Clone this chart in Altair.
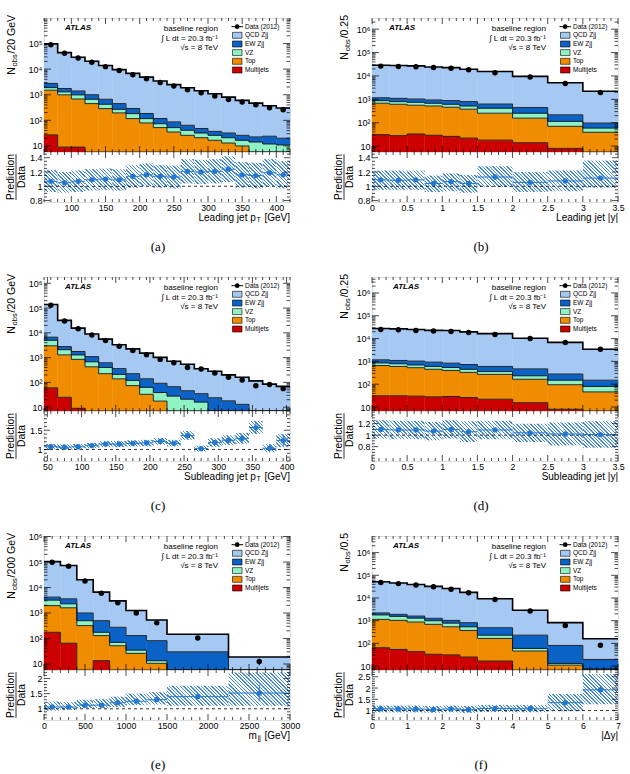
import math
import altair as alt
import pandas as pd
import numpy as np

# ---------------------------------------------------------------- data
# (a) leading jet pT
a_edges = [60, 80, 100, 120, 140, 160, 180, 200, 220, 240, 260, 280, 300, 320, 340, 360, 380, 400, 420]
a_qcd = [93500, 42400, 27500, 19200, 13100, 9140, 6550, 4690, 3300, 2400, 1810, 1390, 1050, 774, 577, 449, 345, 282]
a_ew = [850, 450, 410, 335, 240, 180, 107, 68, 44, 35, 23, 16, 11, 11, 9.4, 8.2, 12, 9]
a_vz = [400, 310, 310, 215, 138, 75, 66, 38, 22, 17, 15, 11, 9.4, 8, 6.6, 9.8, 8.5, 8]
a_top = [1473, 981, 671, 450, 287, 195, 117, 79, 52, 35, 26, 21, 16.6, 13, 10, 4.5, 3.5, 3]
a_mj = [27, 9, 9, 0, 0, 0, 0, 0, 0, 0, 0, 0, 0, 0, 0, 0, 0, 0]
a_data = [90000, 42000, 27000, 18500, 12500, 8800, 6000, 4200, 3000, 2200, 1550, 1200, 900, 650, 520, 410, 310, 260]
a_derr = [0] * 18
a_ratio = [1.07, 1.05, 1.07, 1.09, 1.10, 1.09, 1.14, 1.16, 1.14, 1.13, 1.21, 1.20, 1.21, 1.24, 1.16, 1.15, 1.19, 1.16]
a_rerr = [0, 0, 0, 0, 0, 0, 0.01, 0.01, 0.01, 0.01, 0.02, 0.02, 0.02, 0.03, 0.03, 0.03, 0.04, 0.04]
a_blo = [0.92, 0.91, 0.92, 0.94, 0.95, 0.94, 0.98, 1.0, 0.98, 0.97, 1.04, 1.03, 1.04, 1.06, 0.98, 0.97, 1.0, 0.97]
a_bhi = [1.23, 1.2, 1.22, 1.24, 1.25, 1.24, 1.3, 1.32, 1.3, 1.29, 1.38, 1.37, 1.38, 1.42, 1.34, 1.33, 1.38, 1.35]

# (b) leading jet |y|
b_edges = [0, 0.25, 0.5, 0.75, 1.0, 1.25, 1.5, 2.0, 2.5, 3.0, 3.5]
b_qcd = [27500, 26700, 26000, 23200, 21800, 18500, 14850, 9130, 4890, 2110]
b_ew = [290, 300, 285, 260, 265, 280, 215, 190, 104, 38]
b_vz = [200, 185, 185, 160, 155, 140, 160, 98, 44, 20]
b_top = [649, 587, 527, 491, 434, 358, 237, 143, 62, 35]
b_mj = [31, 28, 33, 29, 26, 22, 18, 14, 8, 4]
b_data = [26300, 25600, 24800, 23200, 21300, 18600, 13700, 9080, 4750, 1980]
b_derr = [0] * 10
b_ratio = [1.09, 1.085, 1.09, 1.04, 1.065, 1.04, 1.13, 1.055, 1.075, 1.115]
b_rerr = [0, 0, 0, 0, 0, 0, 0.01, 0.01, 0.01, 0.02]
b_blo = [0.95, 0.95, 0.95, 0.92, 0.93, 0.91, 0.99, 0.92, 0.93, 0.98]
b_bhi = [1.22, 1.22, 1.22, 1.15, 1.18, 1.16, 1.28, 1.2, 1.22, 1.36]

# (c) subleading jet pT
c_edges = [45, 65, 85, 105, 125, 145, 165, 185, 205, 225, 245, 265, 285, 305, 325, 345, 365, 385, 405]
c_qcd = [132400, 29000, 13700, 7920, 4970, 2950, 2025, 1381, 936, 652, 498, 322, 256, 183, 148, 110, 81.5, 65]
c_ew = [1700, 700, 480, 420, 220, 150, 105, 77, 53, 39, 25, 19, 20, 15, 10, 3, 2, 2]
c_vz = [2000, 810, 440, 255, 175, 71, 46, 30, 21.4, 24, 18, 14, 3, 2, 2, 1, 1, 1]
c_top = [2940, 1265, 841, 425, 225, 139, 74, 33, 17.6, 4, 3, 2, 1, 1, 1, 1, 1, 1]
c_mj = [60, 25, 9, 0, 0, 0, 0, 0, 0, 0, 0, 0, 0, 0, 0, 0, 0, 0]
c_data = [130000, 30000, 14500, 8200, 4900, 2900, 1940, 1300, 850, 620, 400, 350, 237, 162, 125, 73, 83, 56]
c_derr = [0] * 18
c_ratio = [1.07, 1.06, 1.07, 1.10, 1.14, 1.14, 1.16, 1.17, 1.21, 1.16, 1.36, 1.02, 1.18, 1.24, 1.29, 1.57, 1.03, 1.23]
c_rerr = [0, 0, 0, 0, 0.01, 0.01, 0.02, 0.02, 0.03, 0.03, 0.05, 0.04, 0.06, 0.08, 0.09, 0.15, 0.1, 0.15]
c_blo = [1.0, 1.0, 1.0, 1.03, 1.06, 1.06, 1.08, 1.08, 1.12, 1.08, 1.25, 0.95, 1.07, 1.12, 1.15, 1.4, 0.93, 1.06]
c_bhi = [1.14, 1.13, 1.14, 1.17, 1.22, 1.22, 1.24, 1.25, 1.3, 1.25, 1.48, 1.1, 1.29, 1.37, 1.43, 1.74, 1.14, 1.4]

# (d) subleading jet |y|
d_edges = [0, 0.25, 0.5, 0.75, 1.0, 1.25, 1.5, 2.0, 2.5, 3.0, 3.5]
d_qcd = [26550, 25500, 23820, 21860, 21820, 18880, 15860, 9930, 6550, 3280]
d_ew = [310, 310, 330, 330, 300, 280, 240, 235, 130, 70]
d_vz = [200, 190, 170, 150, 140, 120, 90, 70, 55, 34]
d_top = [629, 569, 500, 422, 371, 304, 248, 149.5, 87, 42]
d_mj = [31, 31, 30, 28, 29, 26, 22, 15.5, 8, 4]
d_data = [25200, 24400, 22800, 21300, 20600, 18500, 15100, 10000, 6700, 3400]
d_derr = [0] * 10
d_ratio = [1.10, 1.09, 1.09, 1.07, 1.10, 1.06, 1.09, 1.04, 1.02, 1.01]
d_rerr = [0, 0, 0, 0, 0, 0, 0.01, 0.01, 0.01, 0.02]
d_blo = [0.94, 0.93, 0.93, 0.91, 0.94, 0.88, 0.93, 0.88, 0.82, 0.78]
d_bhi = [1.26, 1.25, 1.25, 1.23, 1.26, 1.24, 1.25, 1.2, 1.22, 1.24]

# (e) m_jj
e_edges = [0, 200, 400, 600, 800, 1000, 1250, 1500, 2250, 3000]
e_qcd = [99680, 69540, 19160, 6108, 2725, 1120, 451, 117, 13.8]
e_ew = [1000, 1300, 500, 325, 205, 95, 68.5, 27, 3]
e_vz = [1250, 700, 180, 45, 18, 9, 2.9, 1, 1]
e_top = [1775, 1535, 320, 116.5, 52, 26, 10.6, 2, 1]
e_mj = [175, 65, 0, 13.5, 0, 0, 0, 0, 0]
e_data = [98000, 69000, 18000, 5900, 2500, 1000, 410, 105, 12.4]
e_derr = [0, 0, 0, 0, 0, 0, 0, 10, 3.5]
e_ratio = [1.06, 1.06, 1.12, 1.12, 1.2, 1.25, 1.3, 1.4, 1.52]
e_rerr = [0, 0, 0.01, 0.01, 0.02, 0.03, 0.04, 0.05, 0.27]
e_blo = [0.94, 0.96, 1.02, 1.02, 1.06, 1.12, 1.14, 1.1, 1.1]
e_bhi = [1.24, 1.22, 1.3, 1.32, 1.4, 1.5, 1.55, 1.76, 2.2]

# (f) |delta y|
f_edges = [0, 0.5, 1, 1.5, 2, 2.5, 3, 4, 5, 6, 7]
f_qcd = [49640, 44110, 37990, 31280, 25185, 16865, 8775, 2632, 742, 140]
f_ew = [400, 350, 300, 270, 250, 275, 260, 170, 68, 12]
f_vz = [660, 520, 430, 310, 240, 170, 65, 14, 2, 0.5]
f_top = [1076, 976, 827, 657, 509, 345, 148.4, 46, 11, 7]
f_mj = [64, 54, 43, 33, 31, 25, 16.6, 0, 0, 0]
f_data = [48000, 43000, 37000, 31000, 24500, 17000, 8500, 2650, 610, 83]
f_derr = [0] * 10
f_ratio = [1.08, 1.07, 1.07, 1.05, 1.07, 1.04, 1.09, 1.08, 1.35, 1.92]
f_rerr = [0, 0, 0, 0, 0, 0, 0.01, 0.02, 0.06, 0.2]
f_blo = [0.92, 0.92, 0.92, 0.9, 0.92, 0.9, 0.93, 0.92, 0.97, 1.28]
f_bhi = [1.22, 1.22, 1.22, 1.2, 1.22, 1.2, 1.25, 1.25, 1.73, 2.62]

SAMPLES = ["QCD Zjj", "EW Zjj", "VZ", "Top", "Multijets"]
SAMPLE_COLORS = ["#a5c9f3", "#0a62c6", "#8ef2c2", "#f08c00", "#cc0000"]

# ---------------------------------------------------------------- style
FONT = "Liberation Sans"
W, HM, HR, GAP = 246, 134, 50, 75
RB = "#2478cc"
HATCH = "#4489d8"
CW = {' ': 278, '(': 333, ')': 333, '/': 278, '.': 278, '-': 333, '=': 584, '[': 278, ']': 278,
      '|': 260, 'A': 667, 'D': 722, 'G': 778, 'L': 556, 'N': 722, 'P': 667, 'S': 667, 'T': 611,
      'V': 667, 'a': 556, 'b': 556, 'c': 500, 'd': 556, 'e': 556, 'g': 556, 'i': 222, 'j': 222,
      'l': 222, 'n': 556, 'o': 556, 'p': 556, 'r': 333, 's': 500, 't': 278, 'u': 556, 'y': 500,
      'm': 833, 'Δ': 612}


def tw(s, size):
    return sum(CW.get(ch, 556) for ch in s) * size / 1000.0


one = pd.DataFrame({"k": [0]})
LOGLAB = ("datum.value >= 999999 ? '10⁶' : datum.value >= 99999 ? '10⁵' : "
          "datum.value >= 9999 ? '10⁴' : datum.value >= 999 ? '10³' : "
          "datum.value >= 99 ? '10²' : '10'")


def txt(s, x, y, size=8, align="left", angle=0, weight="normal", style="normal",
        font=FONT, baseline="middle"):
    kw = dict(text=s, fontSize=size, align=align, baseline=baseline, font=font,
              fontWeight=weight, fontStyle=style, color="black")
    if angle:
        kw["angle"] = angle
    return alt.Chart(one).mark_text(**kw).encode(x=alt.value(x), y=alt.value(y))


def prule(x0, x1, y0, y1, color="black", width=0.8, opacity=1):
    return alt.Chart(one).mark_rule(color=color, strokeWidth=width, opacity=opacity).encode(
        x=alt.value(x0), x2=alt.value(x1), y=alt.value(y0), y2=alt.value(y1))


def lin_minor(lo, hi, step, majors):
    out = []
    n = int(round((hi - lo) / step))
    for i in range(n + 1):
        v = round(lo + i * step, 6)
        if lo <= v <= hi and all(abs(v - m) > 1e-9 for m in majors):
            out.append(v)
    return out


def log_ticks(dom):
    maj, mnr = [], []
    for k in range(0, 8):
        for m in range(1, 10):
            v = m * 10 ** k
            if dom[0] < v < dom[1]:
                (maj if m == 1 else mnr).append(v)
    return maj, mnr


def hatch(w, h, period=2.5, line=1.0):
    """45-degree hatch ('\\' direction) as a gradient in bounding-box units."""
    w = max(w, 1.0)
    h = max(h, 1.0)
    k = w * (w + h) / (w * w + h * h)
    total = w + h
    q = period * math.sqrt(2)
    lw = line * math.sqrt(2)
    stops = []
    i = 0
    while i * q < total:
        t0 = i * q / total
        t1 = min((i * q + lw) / total, 1.0)
        t2 = min((i + 1) * q / total, 1.0)
        stops += [(t0, HATCH), (t1, HATCH), (t1, "#ffffff"), (t2, "#ffffff")]
        i += 1
    return {"gradient": "linear", "x1": 0, "y1": 1, "x2": k, "y2": 1 - k * h / w,
            "stops": [{"offset": round(o, 5), "color": c} for o, c in stops]}


def xticks(X, vals, length, H):
    df = pd.DataFrame({"t": list(vals)})
    top = alt.Chart(df).mark_rule(color="black", strokeWidth=0.7).encode(
        x=X("t"), y=alt.value(0), y2=alt.value(length))
    bot = alt.Chart(df).mark_rule(color="black", strokeWidth=0.7).encode(
        x=X("t"), y=alt.value(H - length), y2=alt.value(H))
    return [top, bot]


def yticks(Y, vals, length):
    df = pd.DataFrame({"t": list(vals)})
    left = alt.Chart(df).mark_rule(color="black", strokeWidth=0.7).encode(
        y=Y("t"), x=alt.value(0), x2=alt.value(length))
    right = alt.Chart(df).mark_rule(color="black", strokeWidth=0.7).encode(
        y=Y("t"), x=alt.value(W - length), x2=alt.value(W))
    return [left, right]


def main_chart(p, anchor=False):
    e = p["edges"]
    n = len(e) - 1
    lo, hi = e[:-1], e[1:]
    xs = alt.Scale(domain=[e[0], e[-1]], nice=False, zero=False)
    ys = alt.Scale(type="log", domain=p["ydom"], nice=False, clamp=True)
    yax = alt.Axis(values=p["ylab"], labelExpr=LOGLAB, ticks=False, domain=False, grid=False,
                   title=None, labelFont=FONT, labelFontSize=9, labelPadding=2, labelColor="black")

    def X(f):
        return alt.X(f, type="quantitative", scale=xs, axis=None)

    def Y(f):
        return alt.Y(f, type="quantitative", scale=ys, axis=yax)

    comps = {"Multijets": p["mj"], "Top": p["top"], "VZ": p["vz"], "EW Zjj": p["ew"], "QCD Zjj": p["qcd"]}
    rows, lines = [], []
    cum = np.zeros(n)
    for name in ["Multijets", "Top", "VZ", "EW Zjj", "QCD Zjj"]:
        vals = np.array(comps[name], dtype=float)
        base = cum.copy()
        cum = cum + vals
        for i in range(n):
            if vals[i] > 0:
                rows.append(dict(lo=lo[i], hi=hi[i], s=name, y0=max(base[i], 0.5), y1=max(cum[i], 0.5)))
            lines.append(dict(x=lo[i], v=max(cum[i], 0.5), s=name))
        lines.append(dict(x=hi[-1], v=max(cum[-1], 0.5), s=name))
    sdf = pd.DataFrame(rows)
    ldf = pd.DataFrame(lines)
    cscale = alt.Scale(domain=SAMPLES, range=SAMPLE_COLORS)

    layers = []
    layers.append(alt.Chart(sdf).mark_rect(strokeWidth=0.4).encode(
        x=X("lo"), x2="hi", y=Y("y1"), y2="y0",
        color=alt.Color("s:N", scale=cscale, legend=None),
        stroke=alt.Stroke("s:N", scale=cscale, legend=None)))
    layers.append(alt.Chart(ldf[ldf.s != "QCD Zjj"]).mark_line(
        interpolate="step-after", color="#151515", strokeWidth=0.9).encode(
        x=X("x"), y=Y("v"), detail="s:N"))
    layers.append(alt.Chart(ldf[ldf.s == "QCD Zjj"]).mark_line(
        interpolate="step-after", color="#000000", strokeWidth=1.6).encode(x=X("x"), y=Y("v")))

    ddf = pd.DataFrame({"c": [(a + b) / 2 for a, b in zip(lo, hi)], "d": p["data"], "err": p["derr"]})
    ddf["dlo"] = ddf["d"] - ddf["err"]
    ddf["dhi"] = ddf["d"] + ddf["err"]
    edf = ddf[ddf.err > 0]
    if len(edf):
        layers.append(alt.Chart(edf).mark_rule(color="black", strokeWidth=1).encode(
            x=X("c"), y=Y("dlo"), y2="dhi"))
    layers.append(alt.Chart(ddf).mark_circle(color="black", size=30, opacity=1).encode(
        x=X("c"), y=Y("d")))

    layers += xticks(X, p["xmajor"], 6, HM)
    layers += xticks(X, lin_minor(e[0], e[-1], p["xminor"], p["xmajor"]), 3, HM)
    maj, mnr = log_ticks(p["ydom"])
    layers += yticks(Y, maj, 7)
    layers += yticks(Y, mnr, 3.5)

    layers.append(txt("ATLAS", p["atlas_x"], 10, size=8, weight="bold", style="italic"))
    layers.append(txt("baseline region", 174, 11, size=8, align="right"))
    layers.append(txt("∫ L dt = 20.3 fb⁻¹", 174, 20.5, size=8, align="right"))
    layers.append(txt("√s = 8 TeV", 174, 30, size=8, align="right"))

    ly = [8.7, 17.3, 26, 34.6, 43.3, 52]
    layers.append(prule(187.5, 199, ly[0], ly[0], width=1))
    layers.append(alt.Chart(one).mark_circle(color="black", size=22, opacity=1).encode(
        x=alt.value(193.2), y=alt.value(ly[0])))
    for i, col in enumerate(SAMPLE_COLORS):
        yy = ly[i + 1]
        layers.append(alt.Chart(one).mark_rect(fill=col, stroke="black", strokeWidth=0.6).encode(
            x=alt.value(188.5), x2=alt.value(198), y=alt.value(yy - 3), y2=alt.value(yy + 3)))
    for i, lab in enumerate(["Data (2012)"] + SAMPLES):
        layers.append(txt(lab, 201, ly[i], size=6.5))

    yx = p["ytx"]
    y_end = -3
    w1 = tw(p["unit"], 10.5) + 0.8
    w2 = tw("obs", 7.5) + 0.8
    layers.append(txt(p["unit"], yx, y_end, size=10.5, align="right", angle=270))
    layers.append(txt("obs", yx + 3, y_end + w1, size=7.5, align="right", angle=270))
    layers.append(txt("N", yx, y_end + w1 + w2, size=10.5, align="right", angle=270))

    if anchor:
        layers.append(prule(-43, -42.5, -17, -17, opacity=0, width=0.1))

    return alt.layer(*layers).properties(width=W, height=HM)


def ratio_chart(p):
    e = p["edges"]
    lo, hi = e[:-1], e[1:]
    xs = alt.Scale(domain=[e[0], e[-1]], nice=False, zero=False)
    rs = alt.Scale(domain=p["rdom"], nice=False, zero=False)
    xax = alt.Axis(values=p["xmajor"], labelExpr="'' + datum.value", ticks=False, domain=False,
                   grid=False, title=None, labelFont=FONT, labelFontSize=8.8, labelPadding=1,
                   labelFlush=False, labelOverlap=False, labelColor="black")
    rax = alt.Axis(values=p["rlab"], labelExpr="'' + datum.value", ticks=False, domain=False,
                   grid=False, title=None, labelFont=FONT, labelFontSize=9, labelPadding=2,
                   labelColor="black", labelFlush=False, labelOverlap=False)

    def X(f):
        return alt.X(f, type="quantitative", scale=xs, axis=xax)

    def Y(f):
        return alt.Y(f, type="quantitative", scale=rs, axis=rax)

    df = pd.DataFrame({"lo": lo, "hi": hi, "c": [(a + b) / 2 for a, b in zip(lo, hi)],
                       "r": p["ratio"], "re": p["rerr"], "blo": p["blo"], "bhi": p["bhi"]})
    df["rl"] = df["r"] - df["re"]
    df["rh"] = df["r"] + df["re"]
    layers = []
    xspan = e[-1] - e[0]
    rspan = p["rdom"][1] - p["rdom"][0]
    for i in range(len(df)):
        row = df.iloc[[i]]
        wpx = (row["hi"].iloc[0] - row["lo"].iloc[0]) / xspan * W
        hpx = (row["bhi"].iloc[0] - row["blo"].iloc[0]) / rspan * HR
        layers.append(alt.Chart(row).mark_rect(fill=hatch(wpx, hpx)).encode(
            x=X("lo"), x2="hi", y=Y("blo"), y2="bhi"))
    layers.append(alt.Chart(pd.DataFrame({"v": [1.0]})).mark_rule(
        color="black", strokeWidth=0.8, strokeDash=[3, 3]).encode(
        y=Y("v"), x=alt.value(0), x2=alt.value(W)))
    layers.append(alt.Chart(df).mark_rule(color=RB, strokeWidth=1).encode(
        x=X("lo"), x2="hi", y=Y("r")))
    vdf = df[df.re > 0]
    if len(vdf):
        layers.append(alt.Chart(vdf).mark_rule(color=RB, strokeWidth=1).encode(
            x=X("c"), y=Y("rl"), y2="rh"))
    layers.append(alt.Chart(df).mark_circle(color=RB, size=28, opacity=1).encode(
        x=X("c"), y=Y("r")))

    layers += xticks(X, p["xmajor"], 6, HR)
    layers += xticks(X, lin_minor(e[0], e[-1], p["xminor"], p["xmajor"]), 3, HR)
    layers += yticks(Y, p["rlab"], 6)
    r0 = np.ceil(p["rdom"][0] / p["rminor"]) * p["rminor"]
    layers += yticks(Y, lin_minor(round(r0, 6), p["rdom"][1], p["rminor"], p["rlab"]), 3)

    mid = HR / 2
    wp = tw("Prediction", 10.3)
    layers.append(txt("Prediction", -33.5, mid, size=10.3, align="center", angle=270))
    layers.append(txt("Data", -22.5, mid, size=10.3, align="center", angle=270))
    layers.append(prule(-28, -28, mid - wp / 2, mid + wp / 2, width=0.8))

    x_end = W
    ty = HR + 15.5
    for s, size, dy in reversed(p["xtitle"]):
        layers.append(txt(s.strip(), x_end, ty + dy, size=size, align="right"))
        x_end -= tw(s, size) + 0.8

    layers.append(txt(p["caption"], p["cap_x"], HR + 45, size=13, align="center",
                      font="Liberation Serif"))
    return alt.layer(*layers).properties(width=W, height=HR)


def spacer():
    return alt.Chart(one).mark_point(opacity=0).encode(
        x=alt.value(0), y=alt.value(0)).properties(
        width=W, height=GAP, view=alt.ViewBackground(stroke="transparent"))


panels = [
    dict(edges=a_edges, qcd=a_qcd, ew=a_ew, vz=a_vz, top=a_top, mj=a_mj, data=a_data, derr=a_derr,
         ratio=a_ratio, rerr=a_rerr, blo=a_blo, bhi=a_bhi, ydom=[5.8, 9.9e5], ylab=[10, 100, 1e3, 1e4, 1e5],
         rdom=[0.78, 1.48], rlab=[0.8, 1, 1.2, 1.4], rminor=0.05,
         xmajor=[100, 150, 200, 250, 300, 350, 400], xminor=10, unit="/20 GeV",
         xtitle=[("Leading jet p", 10, 0), ("T", 7, 2.5), (" [GeV]", 10, 0)], caption="(a)",
         cap_x=114, ytx=-32, atlas_x=21),
    dict(edges=b_edges, qcd=b_qcd, ew=b_ew, vz=b_vz, top=b_top, mj=b_mj, data=b_data, derr=b_derr,
         ratio=b_ratio, rerr=b_rerr, blo=b_blo, bhi=b_bhi, ydom=[5.6, 3e6], ylab=[10, 100, 1e3, 1e4, 1e5, 1e6],
         rdom=[0.78, 1.48], rlab=[0.8, 1, 1.2, 1.4], rminor=0.05,
         xmajor=[0, 0.5, 1, 1.5, 2, 2.5, 3, 3.5], xminor=0.1, unit="/0.25",
         xtitle=[("Leading jet |y|", 10, 0)], caption="(b)", cap_x=109, ytx=-27, atlas_x=17),
    dict(edges=c_edges, qcd=c_qcd, ew=c_ew, vz=c_vz, top=c_top, mj=c_mj, data=c_data, derr=c_derr,
         ratio=c_ratio, rerr=c_rerr, blo=c_blo, bhi=c_bhi, ydom=[7, 1.8e6], ylab=[10, 100, 1e3, 1e4, 1e5, 1e6],
         rdom=[0.7, 2.0], rlab=[1, 1.5], rminor=0.1,
         xmajor=[50, 100, 150, 200, 250, 300, 350, 400], xminor=10, unit="/20 GeV",
         xtitle=[("Subleading jet p", 10, 0), ("T", 7, 2.5), (" [GeV]", 10, 0)], caption="(c)",
         cap_x=114, ytx=-32, atlas_x=21),
    dict(edges=d_edges, qcd=d_qcd, ew=d_ew, vz=d_vz, top=d_top, mj=d_mj, data=d_data, derr=d_derr,
         ratio=d_ratio, rerr=d_rerr, blo=d_blo, bhi=d_bhi, ydom=[6.7, 5e6], ylab=[10, 100, 1e3, 1e4, 1e5, 1e6],
         rdom=[0.55, 1.42], rlab=[0.8, 1, 1.2], rminor=0.05,
         xmajor=[0, 0.5, 1, 1.5, 2, 2.5, 3, 3.5], xminor=0.1, unit="/0.25",
         xtitle=[("Subleading jet |y|", 10, 0)], caption="(d)", cap_x=109, ytx=-27, atlas_x=21),
    dict(edges=e_edges, qcd=e_qcd, ew=e_ew, vz=e_vz, top=e_top, mj=e_mj, data=e_data, derr=e_derr,
         ratio=e_ratio, rerr=e_rerr, blo=e_blo, bhi=e_bhi, ydom=[5.8, 1.05e6], ylab=[10, 100, 1e3, 1e4, 1e5, 1e6],
         rdom=[0.63, 2.28], rlab=[1, 1.5, 2], rminor=0.1,
         xmajor=[0, 500, 1000, 1500, 2000, 2500, 3000], xminor=100, unit="/200 GeV",
         xtitle=[("m", 10, 0), ("jj", 7, 2.5), (" [GeV]", 10, 0)], caption="(e)",
         cap_x=114, ytx=-32, atlas_x=21),
    dict(edges=f_edges, qcd=f_qcd, ew=f_ew, vz=f_vz, top=f_top, mj=f_mj, data=f_data, derr=f_derr,
         ratio=f_ratio, rerr=f_rerr, blo=f_blo, bhi=f_bhi, ydom=[6.7, 5.4e6], ylab=[10, 100, 1e3, 1e4, 1e5, 1e6],
         rdom=[0.58, 2.8], rlab=[1, 1.5, 2, 2.5], rminor=0.1,
         xmajor=[0, 1, 2, 3, 4, 5, 6, 7], xminor=0.2, unit="/0.5",
         xtitle=[("|Δy|", 10, 0)], caption="(f)", cap_x=109, ytx=-27, atlas_x=21),
]

cells = []
for r in range(3):
    pl, pr = panels[2 * r], panels[2 * r + 1]
    cells += [main_chart(pl, anchor=(r == 0)), main_chart(pr)]
    cells += [ratio_chart(pl), ratio_chart(pr)]
    if r < 2:
        cells += [spacer(), spacer()]

chart = alt.concat(*cells, columns=2, spacing={"row": 0, "column": 82},
                   bounds="flush", align="each").properties(
    padding={"left": 0, "top": 0, "right": 0, "bottom": 0}
).configure_view(stroke="black", strokeWidth=1.1).configure(font=FONT)

chart.save("out.html", embed_options={"renderer": "svg", "actions": False})
